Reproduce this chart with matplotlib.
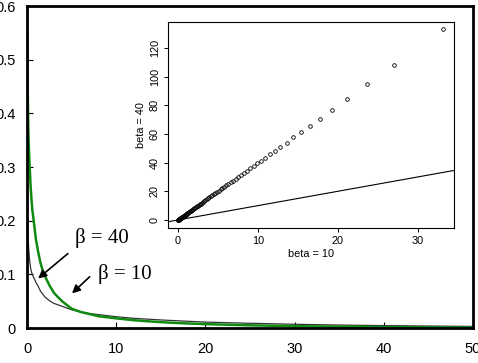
import matplotlib
matplotlib.use("Agg")
import matplotlib.pyplot as plt

# density curves
x40 = [0.01, 0.03, 0.06, 0.1, 0.15, 0.2, 0.3, 0.4, 0.5, 0.75, 1.0, 1.25, 1.5, 2, 2.5, 3, 4, 5, 6, 7, 8,
       10, 12, 15, 20, 25, 30, 35, 40, 45, 50]
y40 = [0.29, 0.25, 0.21, 0.18, 0.16, 0.145, 0.125, 0.112, 0.104, 0.094, 0.085, 0.078, 0.069, 0.058,
       0.051, 0.046, 0.040, 0.034, 0.030, 0.027, 0.025, 0.021, 0.018, 0.015, 0.011, 0.0088, 0.007,
       0.0055, 0.0045, 0.0037, 0.003]

x10 = [0.03, 0.06, 0.1, 0.15, 0.2, 0.3, 0.4, 0.5, 0.6, 0.75, 1.0, 1.25, 1.5, 1.75, 2, 2.5, 3, 3.5, 4,
       5, 6, 7, 8, 9, 10, 12, 14, 16, 18, 20, 25, 30, 35, 40, 45, 50]
y10 = [0.56, 0.48, 0.42, 0.37, 0.34, 0.30, 0.265, 0.24, 0.22, 0.20, 0.165, 0.142, 0.122, 0.108, 0.097,
       0.080, 0.066, 0.057, 0.049, 0.036, 0.030, 0.026, 0.022, 0.020, 0.018, 0.0145, 0.012, 0.010,
       0.0085, 0.0072, 0.005, 0.0035, 0.0025, 0.0018, 0.0013, 0.001]

# quantile pairs for the inset
q10 = [33.2, 27.0, 23.6, 21.1, 19.2, 17.7, 16.5, 15.4, 14.4, 13.6, 12.8, 12.1, 11.5, 10.9, 10.4, 9.9,
       9.45, 9.0, 8.6, 8.2, 7.85, 7.5, 7.2, 6.9, 6.6, 6.3, 6.05, 5.8, 5.55, 5.32, 5.1, 4.88, 4.67, 4.47,
       4.28, 4.1, 3.92, 3.75, 3.58, 3.42, 3.27, 3.12, 2.98, 2.84, 2.71, 2.58, 2.46, 2.34, 2.22, 2.11,
       2.0, 1.9, 1.8, 1.7, 1.6, 1.51, 1.42, 1.34, 1.26, 1.18, 1.1, 1.03, 0.96, 0.89, 0.82, 0.76, 0.7,
       0.64, 0.58, 0.53, 0.48, 0.43, 0.38, 0.34, 0.3, 0.26, 0.22, 0.19, 0.16, 0.13, 0.1, 0.08, 0.06,
       0.04, 0.02]
q40 = [133, 108, 94.5, 84.5, 77, 70.5, 65.5, 61.3, 57.5, 54, 51, 48.3, 45.8, 43.4, 41.3, 39.4,
       37.6, 35.9, 34.3, 32.8, 31.4, 30.0, 28.7, 27.5, 26.3, 25.2, 24.2, 23.2, 22.2, 21.3, 20.4, 19.5,
       18.7, 17.9, 17.1, 16.4, 15.7, 15.0, 14.3, 13.7, 13.1, 12.5, 11.9, 11.4, 10.8, 10.3, 9.8, 9.4,
       8.9, 8.4, 8.0, 7.6, 7.2, 6.8, 6.4, 6.0, 5.7, 5.4, 5.0, 4.7, 4.4, 4.1, 3.8, 3.6, 3.3, 3.0, 2.8,
       2.6, 2.3, 2.1, 1.9, 1.7, 1.5, 1.4, 1.2, 1.0, 0.9, 0.8, 0.6, 0.5, 0.4, 0.3, 0.2, 0.2, 0.1]

plt.rcParams['font.family'] = ['Liberation Sans', 'DejaVu Sans']

fig = plt.figure(figsize=(4.78, 3.63), dpi=100)
ax = fig.add_axes([0.0565, 0.0964, 0.933, 0.887])

ax.plot(x40, y40, color="#333333", lw=0.9)
ax.plot(x10, y10, color="#108a10", lw=1.8)
ax.set_xlim(0, 50)
ax.set_ylim(0, 0.6)
ax.set_xticks([0, 10, 20, 30, 40, 50])
ax.set_yticks([0, 0.1, 0.2, 0.3, 0.4, 0.5, 0.6])
ax.set_yticklabels(["0", "0.1", "0.2", "0.3", "0.4", "0.5", "0.6"])
ax.tick_params(direction="in", length=4, width=0.8, labelsize=10.5)
ax.tick_params(axis="x", pad=10)
ax.tick_params(axis="y", pad=8)
for s in ax.spines.values():
    s.set_linewidth(2)

serif = ['Liberation Serif', 'DejaVu Serif']
ax.annotate("", xy=(1.01, 0.089), xytext=(4.82, 0.142),
            arrowprops=dict(arrowstyle="-|>", color="black", lw=1.2, mutation_scale=12))
ax.annotate("", xy=(4.82, 0.061), xytext=(7.25, 0.099),
            arrowprops=dict(arrowstyle="-|>", color="black", lw=1.2, mutation_scale=12))
ax.text(8.41, 0.168, "β = 40", family=serif, fontsize=15, ha="center", va="center")
ax.text(10.99, 0.101, "β = 10", family=serif, fontsize=15, ha="center", va="center")

# inset QQ plot
ins = fig.add_axes([0.3515, 0.3719, 0.598, 0.5675])
ins.plot(q10, q40, "o", mfc="none", mec="black", ms=2.6, mew=0.6)
ins.plot([-5, 40], [-5, 40], color="black", lw=0.8)
ins.set_xlim(-1.25, 34.5)
ins.set_ylim(-5.6, 138)
ins.set_xticks([0, 10, 20, 30])
ins.set_yticks([0, 20, 40, 60, 80, 100, 120])
ins.tick_params(labelsize=7.8, length=3, width=0.7, pad=3)
for lbl in ins.get_yticklabels():
    lbl.set_rotation(90)
    lbl.set_va("center")
ins.set_xlabel("beta = 10", fontsize=7.8, labelpad=2)
ins.set_ylabel("beta = 40", fontsize=7.8, labelpad=3)
for s in ins.spines.values():
    s.set_linewidth(0.8)

fig.savefig("out.png", dpi=100)
